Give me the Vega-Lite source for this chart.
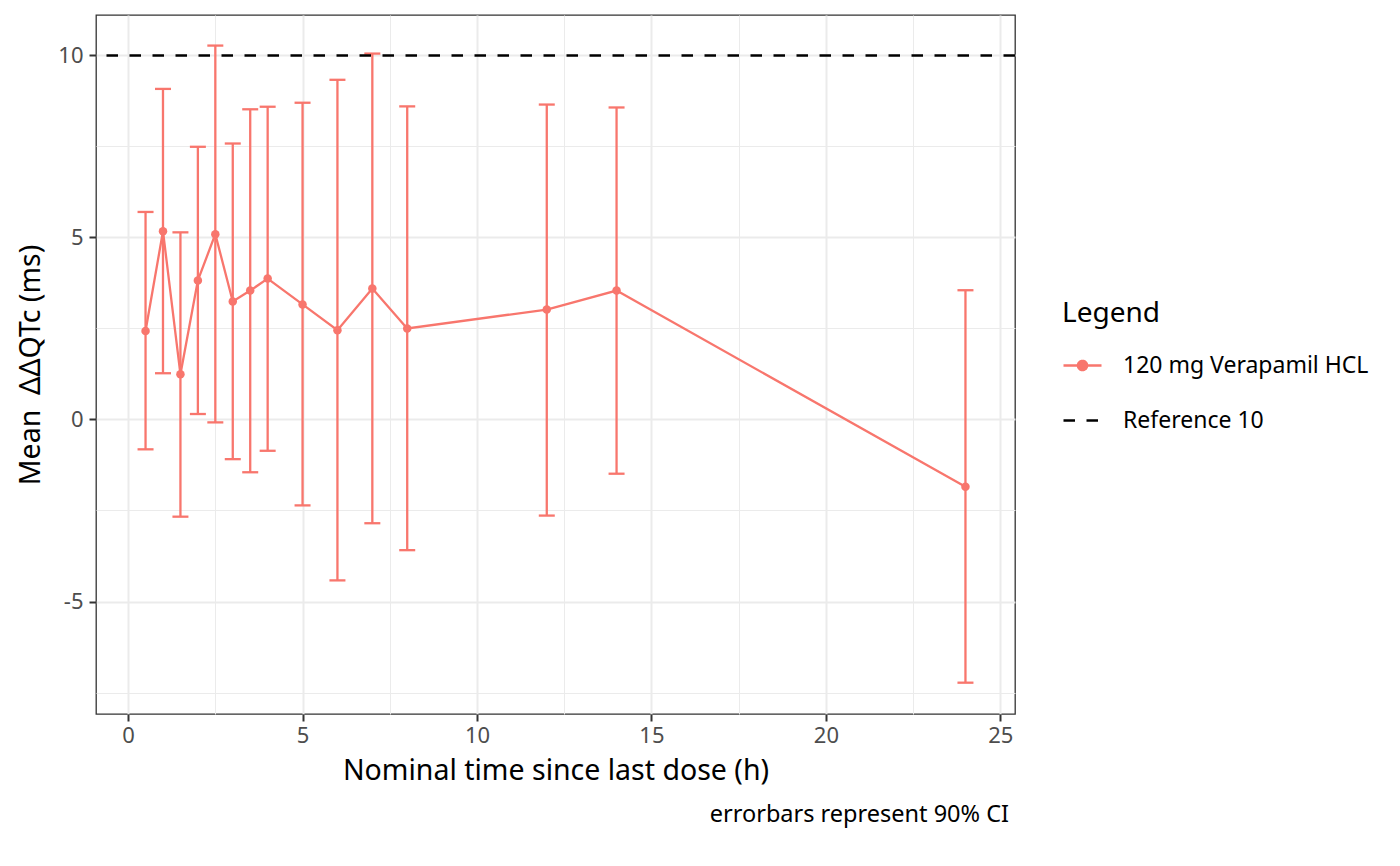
{
  "$schema": "https://vega.github.io/schema/vega-lite/v6.json",
  "width": 919,
  "height": 699,
  "autosize": {"type": "none"},
  "padding": {"left": 96, "top": 15, "right": 385, "bottom": 152},
  "background": "#ffffff",
  "view": {"stroke": "#333333", "strokeWidth": 1.3, "fill": "#ffffff"},
  "config": {
    "font": "Noto Sans",
    "axis": {
      "domain": false,
      "tickColor": "#333333",
      "tickWidth": 2,
      "tickSize": 7,
      "labelFontSize": 22,
      "labelColor": "#4D4D4D",
      "titleFontSize": 28.5,
      "titleFontWeight": "normal",
      "titleColor": "#000000",
      "gridColor": "#EBEBEB"
    }
  },
  "title": {
    "text": "errorbars represent 90% CI",
    "orient": "bottom",
    "anchor": "end",
    "frame": "group",
    "fontSize": 23.5,
    "fontWeight": "normal",
    "color": "#000000",
    "offset": 18,
    "dx": -6
  },
  "datasets": {
    "pk": [
      {"time": 0.5, "mean": 2.43, "lower": -0.82, "upper": 5.70, "series": "120 mg Verapamil HCL"},
      {"time": 1, "mean": 5.17, "lower": 1.27, "upper": 9.08, "series": "120 mg Verapamil HCL"},
      {"time": 1.5, "mean": 1.24, "lower": -2.67, "upper": 5.14, "series": "120 mg Verapamil HCL"},
      {"time": 2, "mean": 3.82, "lower": 0.15, "upper": 7.49, "series": "120 mg Verapamil HCL"},
      {"time": 2.5, "mean": 5.09, "lower": -0.08, "upper": 10.27, "series": "120 mg Verapamil HCL"},
      {"time": 3, "mean": 3.24, "lower": -1.09, "upper": 7.58, "series": "120 mg Verapamil HCL"},
      {"time": 3.5, "mean": 3.54, "lower": -1.45, "upper": 8.52, "series": "120 mg Verapamil HCL"},
      {"time": 4, "mean": 3.87, "lower": -0.86, "upper": 8.59, "series": "120 mg Verapamil HCL"},
      {"time": 5, "mean": 3.16, "lower": -2.36, "upper": 8.70, "series": "120 mg Verapamil HCL"},
      {"time": 6, "mean": 2.45, "lower": -4.42, "upper": 9.33, "series": "120 mg Verapamil HCL"},
      {"time": 7, "mean": 3.60, "lower": -2.85, "upper": 10.05, "series": "120 mg Verapamil HCL"},
      {"time": 8, "mean": 2.50, "lower": -3.59, "upper": 8.60, "series": "120 mg Verapamil HCL"},
      {"time": 12, "mean": 3.02, "lower": -2.64, "upper": 8.65, "series": "120 mg Verapamil HCL"},
      {"time": 14, "mean": 3.54, "lower": -1.49, "upper": 8.57, "series": "120 mg Verapamil HCL"},
      {"time": 24, "mean": -1.85, "lower": -7.23, "upper": 3.55, "series": "120 mg Verapamil HCL"}
    ],
    "ref": [
      {"value": 10, "series": "Reference 10"}
    ]
  },
  "layer": [
    {
      "data": {"name": "pk"},
      "mark": {"type": "rule", "color": "#F8766D", "strokeWidth": 2.3},
      "encoding": {
        "x": {
          "field": "time",
          "type": "quantitative",
          "title": "Nominal time since last dose (h)",
          "scale": {"domain": [-0.92, 25.42], "nice": false, "zero": false},
          "axis": {
            "values": [0, 2.5, 5, 7.5, 10, 12.5, 15, 17.5, 20, 22.5, 25],
            "labelExpr": "datum.value % 5 === 0 ? '' + datum.value : ''",
            "tickOpacity": {"condition": {"test": "datum.value % 5 !== 0", "value": 0}, "value": 1},
            "gridWidth": {"condition": {"test": "datum.value % 5 !== 0", "value": 1}, "value": 2},
            "labelPadding": 4,
            "titlePadding": 10,
            "labelFlush": false
          }
        },
        "y": {
          "field": "lower",
          "type": "quantitative",
          "title": "Mean\u00a0\u00a0ΔΔQTc (ms)",
          "scale": {"domain": [-8.09, 11.11], "nice": false, "zero": false},
          "axis": {
            "values": [-7.5, -5, -2.5, 0, 2.5, 5, 7.5, 10],
            "labelExpr": "datum.value % 5 === 0 ? '' + datum.value : ''",
            "tickOpacity": {"condition": {"test": "datum.value % 5 !== 0", "value": 0}, "value": 1},
            "gridWidth": {"condition": {"test": "datum.value % 5 !== 0", "value": 1}, "value": 2},
            "labelPadding": 6,
            "titlePadding": 12,
            "labelFlush": false
          }
        },
        "y2": {"field": "upper"}
      }
    },
    {
      "data": {"name": "pk"},
      "mark": {"type": "tick", "orient": "horizontal", "color": "#F8766D", "size": 16, "thickness": 2.3, "opacity": 1},
      "encoding": {
        "x": {"field": "time", "type": "quantitative", "title": "Nominal time since last dose (h)"},
        "y": {"field": "lower", "type": "quantitative", "title": "Mean\u00a0\u00a0ΔΔQTc (ms)"}
      }
    },
    {
      "data": {"name": "pk"},
      "mark": {"type": "tick", "orient": "horizontal", "color": "#F8766D", "size": 16, "thickness": 2.3, "opacity": 1},
      "encoding": {
        "x": {"field": "time", "type": "quantitative", "title": "Nominal time since last dose (h)"},
        "y": {"field": "upper", "type": "quantitative", "title": "Mean\u00a0\u00a0ΔΔQTc (ms)"}
      }
    },
    {
      "data": {"name": "ref"},
      "mark": {"type": "rule", "strokeWidth": 2.5, "strokeDash": [11.5, 11.5]},
      "encoding": {
        "y": {"field": "value", "type": "quantitative", "title": "Mean\u00a0\u00a0ΔΔQTc (ms)"},
        "color": {
          "field": "series",
          "type": "nominal",
          "scale": {"domain": ["120 mg Verapamil HCL", "Reference 10"], "range": ["#F8766D", "#000000"]}
        }
      }
    },
    {
      "data": {"name": "pk"},
      "mark": {"type": "line", "strokeWidth": 2.3},
      "encoding": {
        "x": {"field": "time", "type": "quantitative", "title": "Nominal time since last dose (h)"},
        "y": {"field": "mean", "type": "quantitative", "title": "Mean\u00a0\u00a0ΔΔQTc (ms)"},
        "color": {
          "field": "series",
          "type": "nominal",
          "scale": {"domain": ["120 mg Verapamil HCL", "Reference 10"], "range": ["#F8766D", "#000000"]},
          "legend": {
            "title": "Legend",
            "orient": "none",
            "legendX": 966,
            "legendY": 285,
            "padding": 0,
            "titleFontSize": 28,
            "titleFontWeight": "normal",
            "titleColor": "#000000",
            "titlePadding": 17,
            "labelFontSize": 23,
            "labelColor": "#000000",
            "labelLimit": 400,
            "labelOffset": 20,
            "symbolType": "M-1,0H1",
            "symbolSize": 1444,
            "symbolStrokeWidth": 2.5,
            "rowPadding": 22,
            "values": ["120 mg Verapamil HCL", "Reference 10"],
            "encode": {
              "symbols": {
                "update": {
                  "shape": {"signal": "datum.value === 'Reference 10' ? 'M-1,0H1' : 'M-1,0H1M0.24,0A0.24,0.24,0,1,1,-0.24,0A0.24,0.24,0,1,1,0.24,0Z'"},
                  "fill": {"signal": "datum.value === 'Reference 10' ? 'transparent' : '#F8766D'"},
                  "strokeDash": {"signal": "datum.value === 'Reference 10' ? [11.5, 11.5] : [1, 0]"}
                }
              }
            }
          }
        }
      }
    },
    {
      "data": {"name": "pk"},
      "mark": {"type": "circle", "color": "#F8766D", "size": 72, "opacity": 1},
      "encoding": {
        "x": {"field": "time", "type": "quantitative", "title": "Nominal time since last dose (h)"},
        "y": {"field": "mean", "type": "quantitative", "title": "Mean\u00a0\u00a0ΔΔQTc (ms)"}
      }
    }
  ]
}
